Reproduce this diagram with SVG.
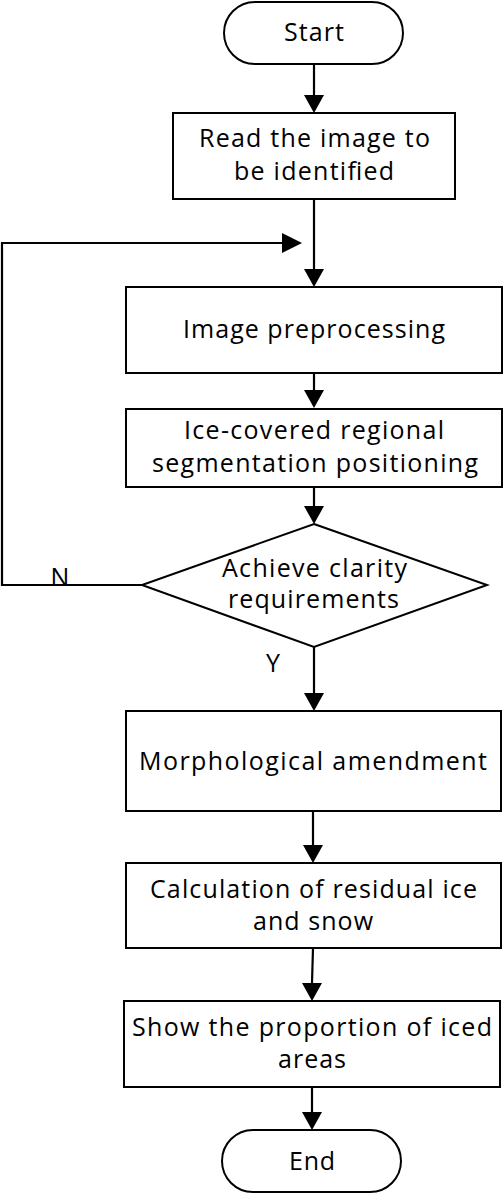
<svg xmlns="http://www.w3.org/2000/svg" width="503" height="1194" viewBox="0 0 503 1194">
<defs>
<style>
.n{fill:#fff;stroke:#000;stroke-width:2}
.t{font-family:"Open Sans","Noto Sans",sans-serif;font-size:25px;fill:#000;text-anchor:middle}
.c{fill:none;stroke:#000;stroke-width:2.2}
</style>
</defs>
<rect width="503" height="1194" fill="#fff"/>
<g id="connectors">
<line class="c" x1="314" y1="64" x2="314" y2="95"/><path d="M304,95 L324,95 L314,113 Z"/>
<line class="c" x1="314" y1="199" x2="314" y2="269"/><path d="M304,269 L324,269 L314,287 Z"/>
<polyline class="c" points="142,585 2,585 2,243 282,243"/><path d="M282,233 L282,253 L302,243 Z"/>
<line class="c" x1="314" y1="373" x2="314" y2="390"/><path d="M304,390 L324,390 L314,408 Z"/>
<line class="c" x1="314" y1="487" x2="314" y2="506"/><path d="M304,506 L324,506 L314,524 Z"/>
<line class="c" x1="314" y1="647" x2="314" y2="693"/><path d="M304,693 L324,693 L314,711 Z"/>
<line class="c" x1="313" y1="811" x2="313" y2="845"/><path d="M303,845 L323,845 L313,863 Z"/>
<line class="c" x1="313" y1="948" x2="312" y2="983"/><path d="M302,983 L322,983 L312,1001 Z"/>
<line class="c" x1="312" y1="1087" x2="312" y2="1112"/><path d="M302,1112 L322,1112 L312,1130 Z"/>
<text class="t" x="60" y="586" font-size="24">N</text>
<text class="t" x="273" y="672" font-size="24">Y</text>
</g>
<g id="start">
<rect class="n" x="224" y="2" width="179" height="62" rx="31"/>
<text class="t" x="314" y="41" textLength="60">Start</text>
</g>
<g id="read">
<rect class="n" x="173" y="113" width="282" height="86"/>
<text class="t" x="314.5" y="147" textLength="231">Read the image to</text>
<text class="t" x="314" y="180" textLength="160">be identified</text>
</g>
<g id="preprocess">
<rect class="n" x="126" y="287" width="376" height="86"/>
<text class="t" x="314" y="338" textLength="262">Image preprocessing</text>
</g>
<g id="segment">
<rect class="n" x="126" y="409" width="376" height="78"/>
<text class="t" x="314" y="439" textLength="260">Ice-covered regional</text>
<text class="t" x="315" y="472" textLength="326">segmentation positioning</text>
</g>
<g id="decision">
<polygon class="n" points="314,524 487,585 314,647 142,585"/>
<text class="t" x="314.5" y="577" textLength="185">Achieve clarity</text>
<text class="t" x="313.5" y="608" textLength="171">requirements</text>
</g>
<g id="morph">
<rect class="n" x="126" y="711" width="375" height="100"/>
<text class="t" x="313" y="770" textLength="348">Morphological amendment</text>
</g>
<g id="calc">
<rect class="n" x="126" y="863" width="375" height="85"/>
<text class="t" x="313.5" y="898" textLength="327">Calculation of residual ice</text>
<text class="t" x="313" y="930" textLength="120">and snow</text>
</g>
<g id="show">
<rect class="n" x="124" y="1001" width="376" height="86"/>
<text class="t" x="312" y="1036" textLength="360">Show the proportion of iced</text>
<text class="t" x="312" y="1068" textLength="68">areas</text>
</g>
<g id="end">
<rect class="n" x="222" y="1130" width="179" height="62" rx="31"/>
<text class="t" x="312" y="1170" textLength="46">End</text>
</g>
</svg>
